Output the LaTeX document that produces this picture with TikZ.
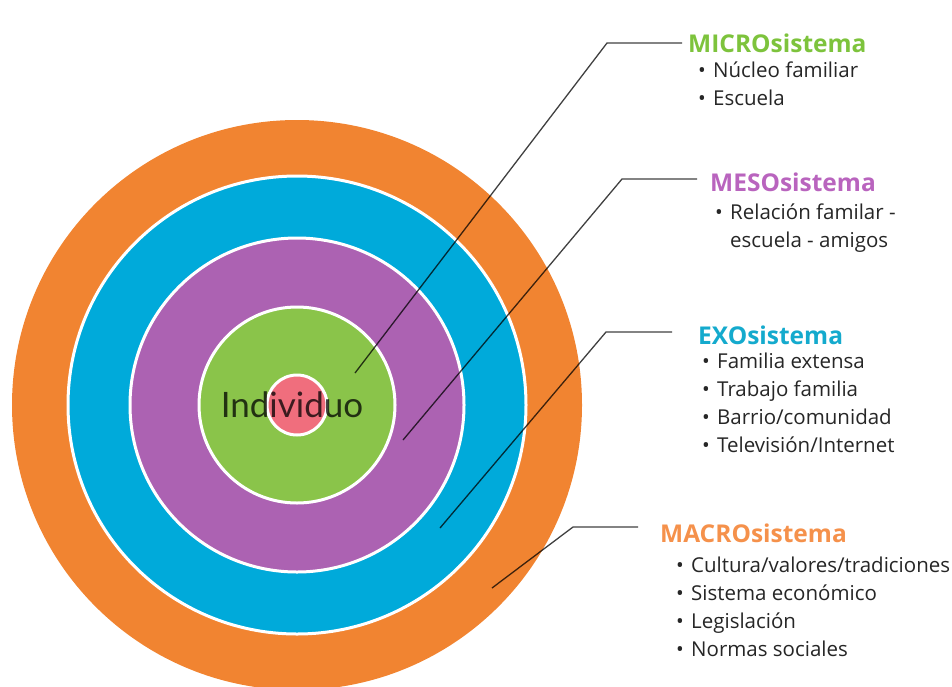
\documentclass[tikz,border=0pt]{standalone}
\usepackage{fontspec}
\setmainfont{Open Sans}
\newfontfamily\corefont{Lato}
\definecolor{macroc}{RGB}{241,132,49}
\definecolor{exoc}{RGB}{0,170,218}
\definecolor{mesoc}{RGB}{172,98,178}
\definecolor{microc}{RGB}{138,196,74}
\definecolor{selfc}{RGB}{240,110,125}
\definecolor{microt}{RGB}{125,195,60}
\definecolor{mesot}{RGB}{185,100,190}
\definecolor{exot}{RGB}{20,170,205}
\definecolor{macrot}{RGB}{245,145,75}
\newcommand{\bul}{\makebox[15pt][l]{\textbullet}}
\begin{document}
\begin{tikzpicture}[x=1pt,y=-1pt]
	\tikzstyle{every node}+=[inner sep=0pt]
	\tikzstyle{ring}=[draw=white,line width=3pt]
	\tikzstyle{lead}=[draw=black,line width=1.3pt,opacity=0.75]
	\tikzstyle{head}=[anchor=west,font=\fontsize{24.5}{24.5}\selectfont\bfseries]
	\tikzstyle{items}=[anchor=north west,align=left,text=black!85,font=\fontsize{20.5}{28}\selectfont]
	\useasboundingbox (0,0) rectangle (952,686);
	% the five nested systems
	\fill [macroc] (297,405) circle (285pt);
	\draw [ring,fill=exoc] (297,405) circle (229pt);
	\draw [ring,fill=mesoc] (297,405) circle (167pt);
	\draw [ring,fill=microc] (297,405) circle (98pt);
	\draw [ring,fill=selfc] (297,405) circle (30pt);
	\node [font=\corefont\fontsize{35}{35}\selectfont,text=black,text opacity=0.75] (self) at (292,405) {Individuo};
	% leader lines
	\coordinate (microend) at (355,373);
	\coordinate (microbend) at (607,43);
	\coordinate (microtip) at (682,43);
	\coordinate (mesoend) at (403,440);
	\coordinate (mesobend) at (622,179);
	\coordinate (mesotip) at (697,179);
	\coordinate (exoend) at (440,528);
	\coordinate (exobend) at (606,332);
	\coordinate (exotip) at (672,332);
	\coordinate (macroend) at (492,588);
	\coordinate (macrobend) at (573,527);
	\coordinate (macrotip) at (638,527);
	\draw [lead] (microend) -- (microbend) -- (microtip);
	\draw [lead] (mesoend) -- (mesobend) -- (mesotip);
	\draw [lead] (exoend) -- (exobend) -- (exotip);
	\draw [lead] (macroend) -- (macrobend) -- (macrotip);
	% labels
	\node [head,text=microt] (micro) at (688,43) {MICROsistema};
	\node [items] (microlist) at (698,62) {\bul Núcleo familiar\\\bul Escuela};
	\node [head,text=mesot] (meso) at (710,182) {MESOsistema};
	\node [items] (mesolist) at (715,204) {\bul Relación familar -\\\hspace*{15pt}escuela - amigos};
	\node [head,text=exot] (exo) at (698,335) {EXOsistema};
	\node [items] (exolist) at (702,353) {\bul Familia extensa\\\bul Trabajo familia\\\bul Barrio/comunidad\\\bul Televisión/Internet};
	\node [head,text=macrot] (macro) at (660,533) {MACROsistema};
	\node [items] (macrolist) at (676,557) {\bul Cultura/valores/tradiciones\\\bul Sistema económico\\\bul Legislación\\\bul Normas sociales};
\end{tikzpicture}
\end{document}
